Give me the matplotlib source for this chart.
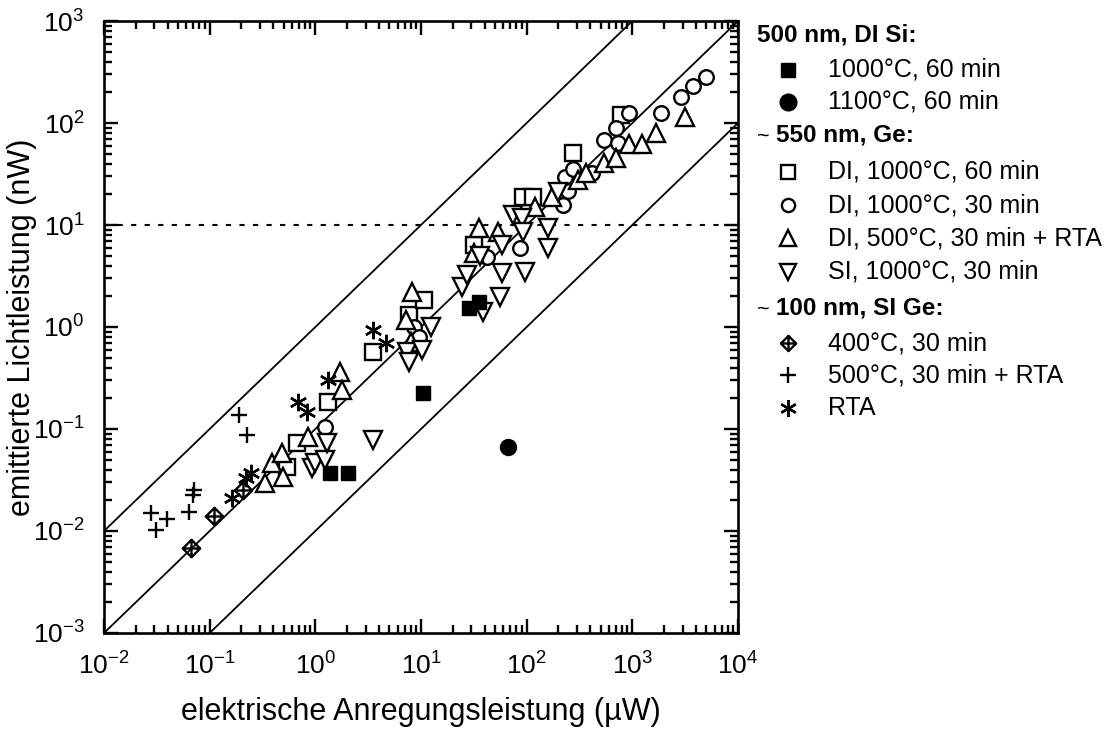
import numpy as np
import matplotlib
matplotlib.use("Agg")
import matplotlib.pyplot as plt
from matplotlib.lines import Line2D
from matplotlib.path import Path
from matplotlib.ticker import LogLocator, LogFormatterSciNotation, NullFormatter

plt.rcParams["font.family"] = ["Liberation Sans", "DejaVu Sans"]
plt.rcParams["mathtext.fontset"] = "custom"
plt.rcParams["mathtext.rm"] = "Liberation Sans"
plt.rcParams["mathtext.default"] = "regular"
plt.rcParams["axes.unicode_minus"] = False

# --- data: electrical excitation power (uW) vs. emitted light power (nW) ---
# 500 nm, DI Si
si_1000_60_x = [1.38, 2.05, 10.4, 28.7, 35.6]
si_1000_60_y = [0.037, 0.037, 0.225, 1.53, 1.76]
si_1100_60_x = [66.0]
si_1100_60_y = [0.067]

# ~550 nm, Ge
di_1000_60_x = [0.54, 0.67, 1.32, 3.48, 7.7, 10.7, 32.0, 92.0, 114.0, 277.0, 783.0]
di_1000_60_y = [0.042, 0.073, 0.184, 0.57, 1.31, 1.84, 6.4, 18.8, 18.8, 50.8, 120.0]

di_1000_30_x = [1.24, 8.6, 9.6, 42.5, 86.0, 222.0, 248.0, 232.0, 277.0, 412.0,
                538.0, 733.0, 702.0, 935.0, 1884.0, 2890.0, 3785.0, 4970.0]
di_1000_30_y = [0.105, 1.0, 0.80, 4.85, 5.96, 15.7, 21.5, 29.6, 35.4, 32.4,
                68.0, 63.7, 89.0, 125.0, 125.0, 180.0, 231.0, 282.0]

di_500_rta_x = [0.334, 0.389, 0.485, 0.495, 0.857, 1.71, 1.79, 7.24, 8.07, 8.3,
                32.0, 35.6, 53.0, 119.0, 174.0, 303.0, 361.0, 538.0, 702.0,
                935.0, 1225.0, 1680.0, 3160.0]
di_500_rta_y = [0.0296, 0.0464, 0.0582, 0.0338, 0.0835, 0.362, 0.241, 1.17, 0.71, 2.2,
                5.31, 9.35, 8.53, 15.0, 18.8, 27.6, 32.4, 40.6, 45.4,
                62.2, 62.2, 79.8, 115.0]

si_1000_30_x = [0.936, 1.0, 1.24, 1.29, 3.48, 7.39, 7.73, 10.2, 12.4, 24.6, 27.4, 36.0,
                38.9, 55.4, 57.8, 59.0, 73.6, 89.6, 91.6, 95.7, 159.0, 159.0, 199.0]
si_1000_30_y = [0.0415, 0.0464, 0.0497, 0.073, 0.078, 0.569, 0.454, 0.596, 1.0, 2.47, 3.24, 5.0,
                1.40, 1.97, 6.37, 3.38, 12.5, 11.7, 8.53, 3.46, 9.35, 5.96, 21.1]

# ~100 nm, SI Ge
ge_400_x = [0.066, 0.109, 0.206]
ge_400_y = [0.0068, 0.014, 0.0252]
ge_500_rta_x = [0.0279, 0.031, 0.0396, 0.0637, 0.069, 0.0705, 0.189, 0.225]
ge_500_rta_y = [0.015, 0.0102, 0.0131, 0.0153, 0.0225, 0.0252, 0.137, 0.0873]
ge_rta_x = [0.162, 0.22, 0.245, 0.688, 0.84, 1.32, 3.48, 4.71]
ge_rta_y = [0.0211, 0.033, 0.037, 0.184, 0.147, 0.302, 0.935, 0.697]

# constant-efficiency guide lines: P_light = k * P_el
guide_k = [1.0, 0.1, 0.01]
threshold_nw = 10.0

x_lim = (1e-2, 1e4)
y_lim = (1e-3, 1e3)

# diamond with an inscribed cross
_dv = [(0, 1), (1, 0), (0, -1), (-1, 0), (0, 1),
       (0, 1), (0, -1), (-1, 0), (1, 0)]
_dc = [Path.MOVETO, Path.LINETO, Path.LINETO, Path.LINETO, Path.CLOSEPOLY,
       Path.MOVETO, Path.LINETO, Path.MOVETO, Path.LINETO]
crossed_diamond = Path(_dv, _dc)
asterisk = (6, 2, 0)

W, H = 1120, 733
fig = plt.figure(figsize=(W / 100, H / 100), dpi=100)


def fpos(x, y):
    """Pixel position (from top-left) to figure fraction."""
    return x / W, 1 - y / H


AX_L, AX_R, AX_T, AX_B = 104, 738, 21, 633
ax = fig.add_axes([AX_L / W, 1 - AX_B / H, (AX_R - AX_L) / W, (AX_B - AX_T) / H])
ax.set_xscale("log")
ax.set_yscale("log")
ax.set_xlim(*x_lim)
ax.set_ylim(*y_lim)

xx = np.array(x_lim)
for k in guide_k:
    ax.plot(xx, k * xx, color="black", lw=1.3, zorder=2)
ax.axhline(threshold_nw, color="black", lw=1.5, ls=(0, (2.5, 4)), zorder=2)

mew = 1.7
open_kw = dict(ls="none", mfc="white", mec="black", mew=mew, zorder=3)
series = [
    (si_1000_60_x, si_1000_60_y, dict(marker="s", ms=10.5, mfc="black", mec="black", ls="none", zorder=4)),
    (si_1100_60_x, si_1100_60_y, dict(marker="o", ms=11.5, mfc="black", mec="black", ls="none", zorder=4)),
    (di_1000_60_x, di_1000_60_y, dict(marker="s", ms=11, **open_kw)),
    (di_1000_30_x, di_1000_30_y, dict(marker="o", ms=10.5, **open_kw)),
    (di_500_rta_x, di_500_rta_y, dict(marker="^", ms=13, **open_kw)),
    (si_1000_30_x, si_1000_30_y, dict(marker="v", ms=13, **open_kw)),
    (ge_400_x, ge_400_y, dict(marker=crossed_diamond, ms=12.5, ls="none", mfc="none", mec="black", mew=mew, zorder=4)),
    (ge_500_rta_x, ge_500_rta_y, dict(marker="+", ms=12, ls="none", mec="black", mew=mew, zorder=4)),
    (ge_rta_x, ge_rta_y, dict(marker=asterisk, ms=12.5, ls="none", mec="black", mew=mew, zorder=4)),
]
for xs, ys, kw in series:
    ax.plot(xs, ys, **kw)

# axes styling
for sp in ax.spines.values():
    sp.set_linewidth(1.9)
ax.xaxis.set_major_locator(LogLocator(base=10, numticks=20))
ax.yaxis.set_major_locator(LogLocator(base=10, numticks=20))
ax.xaxis.set_minor_locator(LogLocator(base=10, subs=np.arange(2, 10), numticks=20))
ax.yaxis.set_minor_locator(LogLocator(base=10, subs=np.arange(2, 10), numticks=20))
ax.xaxis.set_major_formatter(LogFormatterSciNotation())
ax.yaxis.set_major_formatter(LogFormatterSciNotation())
ax.xaxis.set_minor_formatter(NullFormatter())
ax.yaxis.set_minor_formatter(NullFormatter())
ax.tick_params(which="both", direction="in", top=True, right=True, width=1.7)
ax.tick_params(which="major", length=10, labelsize=19)
ax.tick_params(which="minor", length=5.5)
ax.tick_params(axis="x", which="major", pad=14)
ax.tick_params(axis="y", which="major", pad=14)

# axis titles, placed in axes coordinates
ax.set_xlabel("elektrische Anregungsleistung (\u00b5W)", fontsize=22)
ax.xaxis.label.set_va("baseline")
ax.xaxis.set_label_coords(0.5, -(720 - AX_B) / (AX_B - AX_T))
ax.set_ylabel("emittierte Lichtleistung (nW)", fontsize=22)
ax.yaxis.label.set_va("center")
ax.yaxis.set_label_coords(-(AX_L - 22) / (AX_R - AX_L), 0.5)

# legend panel to the right of the axes
hx, mx, tx = 757, 788, 828
fs = 18
hfs = 17.5
rows = [
    ("head", None, "500 nm, DI Si:", 35),
    ("item", dict(marker="s", ms=10, mfc="black", mec="black"), "1000\u00b0C, 60 min", 70),
    ("item", dict(marker="o", ms=12, mfc="black", mec="black"), "1100\u00b0C, 60 min", 102),
    ("head~", None, "550 nm, Ge:", 135),
    ("item", dict(marker="s", ms=9.5, mfc="white", mec="black", mew=mew), "DI, 1000\u00b0C, 60 min", 172),
    ("item", dict(marker="o", ms=9.5, mfc="white", mec="black", mew=mew), "DI, 1000\u00b0C, 30 min", 205),
    ("item", dict(marker="^", ms=11, mfc="white", mec="black", mew=mew), "DI, 500\u00b0C, 30 min + RTA", 238),
    ("item", dict(marker="v", ms=11, mfc="white", mec="black", mew=mew), "SI, 1000\u00b0C, 30 min", 272),
    ("head~", None, "100 nm, SI Ge:", 308),
    ("item", dict(marker=crossed_diamond, ms=11, mfc="none", mec="black", mew=mew), "400\u00b0C, 30 min", 343),
    ("item", dict(marker="+", ms=12, mec="black", mew=mew), "500\u00b0C, 30 min + RTA", 375),
    ("item", dict(marker=asterisk, ms=12, mec="black", mew=mew), "RTA", 408),
]
for kind, mkw, label, y in rows:
    if kind == "head":
        fig.text(*fpos(hx, y), label, fontsize=hfs, fontweight="bold", va="center", ha="left")
    elif kind == "head~":
        fig.text(*fpos(hx, y + 1), "~", fontsize=hfs - 2, va="center", ha="left")
        fig.text(*fpos(hx + 19, y), label, fontsize=hfs, fontweight="bold", va="center", ha="left")
    else:
        px, py = fpos(mx, y)
        fig.add_artist(Line2D([px], [py], transform=fig.transFigure, ls="none", **mkw))
        fig.text(*fpos(tx, y), label, fontsize=fs, va="center", ha="left")

fig.savefig("out.png", dpi=100)
